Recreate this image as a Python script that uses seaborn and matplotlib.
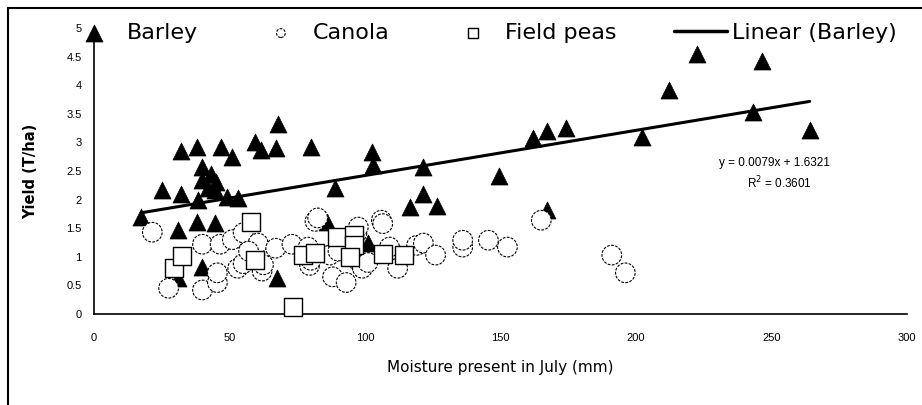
"""
Yield vs. moisture present in July for barley, canola and field peas,
with the linear trend fitted to the barley points.
"""

import matplotlib

matplotlib.use("Agg")
import matplotlib.pyplot as plt
import seaborn as sns
from matplotlib.patches import Rectangle

# --- Data ---
barley_x = [17.5, 25, 32, 32, 31, 31, 38, 38, 38.5, 40, 40, 40, 42, 44.5, 44.5,
            47, 49, 51, 53, 59.5, 61.5, 67, 67.5, 68, 80, 86, 89, 101, 102.5,
            103, 116.5, 121.5, 121.5, 126.5, 149.5, 162, 167, 174, 167, 202,
            212, 222.5, 243, 246.5, 264, 43, 45]
barley_y = [1.7, 2.17, 2.85, 2.1, 1.47, 0.63, 2.92, 1.61, 2.0, 2.57, 2.34, 0.82,
            2.2, 2.17, 1.59, 2.92, 2.05, 2.75, 2.03, 3.0, 2.87, 2.9, 0.63, 3.33,
            2.92, 1.6, 2.2, 1.24, 2.83, 2.6, 1.87, 2.57, 2.1, 1.88, 2.42, 3.07,
            3.2, 3.25, 1.82, 3.1, 3.92, 4.55, 3.53, 4.42, 3.22, 2.45, 2.3]

canola_x = [21.5, 27.5, 40, 45.5, 45.5, 40, 46.5, 51, 55, 53, 55, 60.5, 62, 62.5,
            67, 73, 79, 79.5, 80, 81.5, 82.5, 87, 88, 90, 93, 97, 97.5, 98, 99,
            101, 106, 106.5, 109, 112, 119, 121.5, 126, 136, 136, 145.5, 152.5,
            165, 191, 196, 57]
canola_y = [1.43, 0.45, 0.42, 0.55, 0.72, 1.22, 1.22, 1.3, 1.42, 0.8, 0.88, 1.24,
            0.75, 0.86, 1.15, 1.22, 1.17, 0.85, 0.94, 1.62, 1.68, 1.03, 0.65, 1.1,
            0.55, 1.42, 1.52, 0.89, 0.8, 0.9, 1.64, 1.58, 1.17, 0.8, 1.2, 1.24,
            1.03, 1.17, 1.29, 1.29, 1.17, 1.64, 1.03, 0.72, 1.1]

peas_x = [29.5, 32.5, 58, 59.5, 73.5, 77, 81.5, 89.5, 96, 96, 94.5, 106.5, 114.5]
peas_y = [0.8, 1.02, 1.6, 0.95, 0.12, 1.03, 1.07, 1.35, 1.38, 1.2, 1.0, 1.05, 1.03]

# Trend line for barley as printed on the chart
SLOPE = 0.0079
INTERCEPT = 1.6321
R_SQUARED = 0.3601

x_ticks = [0, 50, 100, 150, 200, 250, 300]
y_ticks = [0, 0.5, 1, 1.5, 2, 2.5, 3, 3.5, 4, 4.5, 5]
y_tick_labels = ["0", "0.5", "1", "1.5", "2", "2.5", "3", "3.5", "4", "4.5", "5"]

sns.set_style("white")
plt.rcParams["font.family"] = ["Liberation Sans", "DejaVu Sans"]
plt.rcParams["text.color"] = "black"
plt.rcParams["axes.labelcolor"] = "black"


def main():
    fig = plt.figure(figsize=(9.22, 4.05), dpi=100)
    ax = fig.add_axes([0.102, 0.2247, 0.882, 0.706])

    sns.scatterplot(x=barley_x, y=barley_y, marker="^", s=150, color="black",
                    edgecolor="black", linewidth=0.5, label="Barley", ax=ax,
                    zorder=2, clip_on=False)

    line_x = [min(barley_x), max(barley_x)]
    line_y = [SLOPE * v + INTERCEPT for v in line_x]
    sns.lineplot(x=line_x, y=line_y, color="black", linewidth=2.2,
                 label="Linear (Barley)", ax=ax, zorder=3)

    sns.scatterplot(x=canola_x, y=canola_y, marker="o", s=200, facecolor="white",
                    edgecolor="black", linewidth=0.8, linestyle=(0, (2.5, 1.2)),
                    label="Canola", ax=ax, zorder=4, clip_on=False)
    sns.scatterplot(x=peas_x, y=peas_y, marker="s", s=165, facecolor="white",
                    edgecolor="black", linewidth=1.0, label="Field peas", ax=ax,
                    zorder=5, clip_on=False)

    ax.set_xlim(0, 300)
    ax.set_ylim(0, 5)
    ax.set_xticks(x_ticks)
    ax.set_xticklabels([str(t) for t in x_ticks], fontsize=8)
    ax.set_yticks(y_ticks)
    ax.set_yticklabels(y_tick_labels, fontsize=8)
    ax.tick_params(direction="out", length=4, width=1, colors="black")
    ax.tick_params(axis="x", pad=10)
    ax.tick_params(axis="y", pad=5)
    for side in ["top", "right"]:
        ax.spines[side].set_visible(False)
    for side in ["left", "bottom"]:
        ax.spines[side].set_color("black")
        ax.spines[side].set_linewidth(1.2)

    ax.set_xlabel("Moisture present in July (mm)", fontsize=11, labelpad=12,
                  family="DejaVu Sans")
    ax.set_ylabel("Yield (T/ha)", fontsize=10.5, fontweight="bold", labelpad=20,
                  family="DejaVu Sans")

    ax.text(251, 2.64, f"y = {SLOPE}x + {INTERCEPT}", ha="center",
            va="center", fontsize=8.5)
    ax.text(253, 2.29, f"R$^2$ = {R_SQUARED}", ha="center", va="center",
            fontsize=8.5)

    # Legend across the top, in the order of the original
    handles, labels = ax.get_legend_handles_labels()
    order = ["Barley", "Canola", "Field peas", "Linear (Barley)"]
    lookup = dict(zip(labels, handles))
    leg = ax.legend([lookup[k] for k in order], order, loc="center left",
                    bbox_to_anchor=(-0.0326, 0.983), ncol=4, frameon=False,
                    prop={"family": "DejaVu Sans", "size": 16},
                    handlelength=2.4, handletextpad=0.25,
                    columnspacing=2.55, borderaxespad=0, borderpad=0)
    leg.legend_handles[1].set_sizes([40])
    leg.legend_handles[2].set_sizes([45])
    leg.legend_handles[3].set_linewidth(2.5)

    # Frame around the whole chart
    fig.add_artist(Rectangle((8 / 922, -0.05), 1.0, 1 - 8 / 405 + 0.05,
                             transform=fig.transFigure, fill=False,
                             edgecolor="black", linewidth=1.5))

    fig.savefig("out.png", dpi=100)
    plt.close(fig)


if __name__ == "__main__":
    main()
